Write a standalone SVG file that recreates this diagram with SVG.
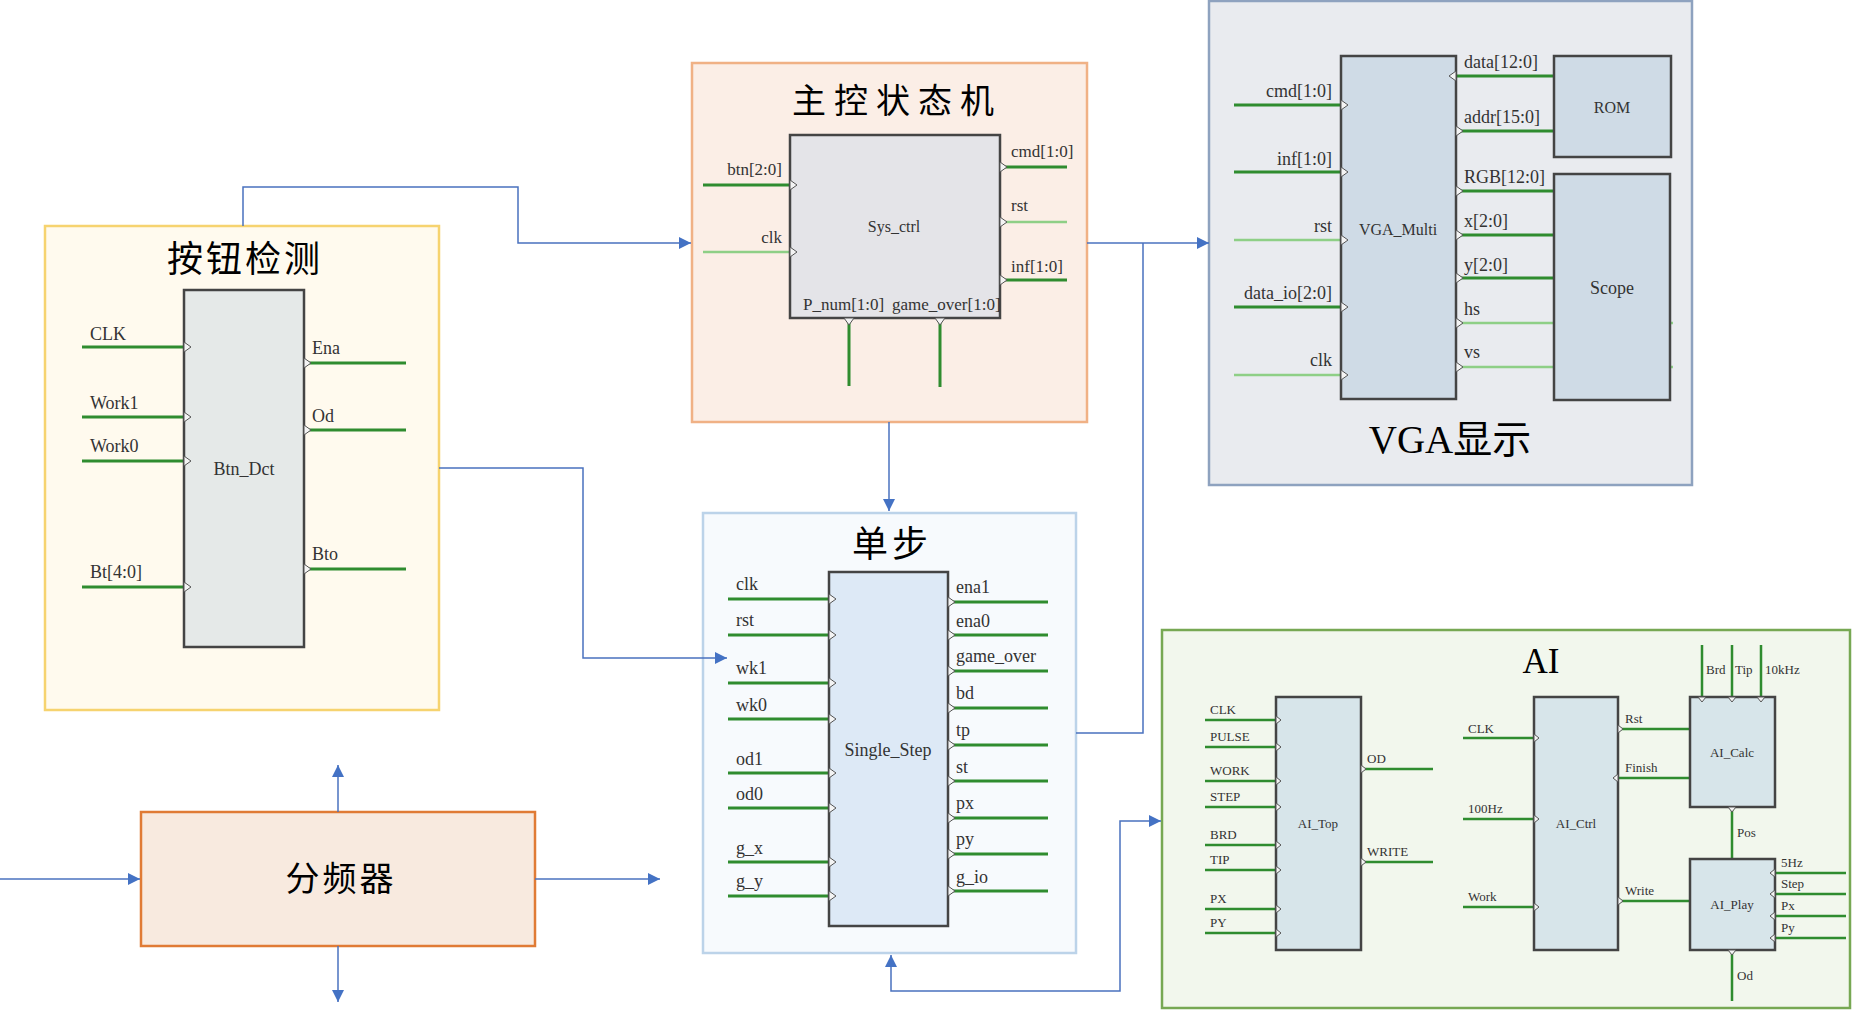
<svg xmlns="http://www.w3.org/2000/svg" xmlns:xlink="http://www.w3.org/1999/xlink" width="1854" height="1015" viewBox="0 0 1854 1015">
<style>
text{font-family:"Liberation Serif","Noto Sans CJK SC",serif;fill:#333}
.t{font-size:18px}
.s{font-size:17px}
.a{font-size:13px}
.m{text-anchor:middle}
.e{text-anchor:end}
.ttl{fill:#000;text-anchor:middle}
.blk{stroke:#444;stroke-width:2.5}
.d{stroke:#2f8c2f;stroke-width:3;fill:none}
.l{stroke:#8ecf86;stroke-width:2.5;fill:none}
.da{stroke:#2f8c2f;stroke-width:2.5;fill:none}
.c{stroke:#4a72bf;stroke-width:1.5;fill:none}
.pin{fill:#f4f4f4;stroke:#555;stroke-width:1}
</style>
<defs>
<marker id="arr" markerUnits="userSpaceOnUse" markerWidth="13" markerHeight="12" refX="12" refY="6" orient="auto-start-reverse">
<path d="M0,0 L12,6 L0,12 Z" fill="#4472c4"/>
</marker>
<path id="pr" class="pin" d="M0,-5 L7,0 L0,5 Z"/>
<path id="pl" class="pin" d="M0,-5 L-7,0 L0,5 Z"/>
<path id="pd" class="pin" d="M-5,0 L0,7 L5,0 Z"/>
<path id="prs" class="pin" d="M0,-4 L5,0 L0,4 Z"/>
<path id="pls" class="pin" d="M0,-4 L-5,0 L0,4 Z"/>
<path id="pds" class="pin" d="M-4,0 L0,5 L4,0 Z"/>
</defs>
<rect width="1854" height="1015" fill="#fff"/>

<g id="btn_detect">
<rect x="45" y="226" width="394" height="484" fill="#fffaee" stroke="#f6d36f" stroke-width="2.5"/>
<text class="ttl" x="245" y="272" font-size="36" letter-spacing="3">按钮检测</text>
<path class="d" d="M82,347H184M82,417H184M82,461H184M82,587H184M304,363H406M304,430H406M304,569H406"/>
<rect class="blk" x="184" y="290" width="120" height="357" fill="#e5e9e8"/>
<use href="#pr" x="184" y="347"/><use href="#pr" x="184" y="417"/><use href="#pr" x="184" y="461"/><use href="#pr" x="184" y="587"/>
<use href="#pr" x="304" y="363"/><use href="#pr" x="304" y="430"/><use href="#pr" x="304" y="569"/>
<text class="t" x="90" y="340">CLK</text>
<text class="t" x="90" y="409">Work1</text>
<text class="t" x="90" y="452">Work0</text>
<text class="t" x="90" y="578">Bt[4:0]</text>
<text class="t" x="312" y="354">Ena</text>
<text class="t" x="312" y="422">Od</text>
<text class="t" x="312" y="560">Bto</text>
<text class="t m" x="244" y="475">Btn_Dct</text>
</g>

<g id="sys_ctrl">
<rect x="692" y="63" width="395" height="359" fill="#fbeee6" stroke="#f0b185" stroke-width="2.5"/>
<text class="ttl" x="897" y="113" font-size="34" letter-spacing="8">主控状态机</text>
<path class="d" d="M703,185H790M1000,167H1067M1000,280H1067M849,318V386M940,318V387"/>
<path class="l" d="M703,252H790M1000,222H1067"/>
<rect class="blk" x="790" y="135" width="210" height="183" fill="#e4e4e8"/>
<use href="#pr" x="790" y="185"/><use href="#pr" x="790" y="252"/>
<use href="#pr" x="1000" y="167"/><use href="#pr" x="1000" y="222"/><use href="#pr" x="1000" y="280"/>
<use href="#pd" x="849" y="318"/><use href="#pd" x="940" y="318"/>
<text class="s e" x="782" y="175">btn[2:0]</text>
<text class="s e" x="782" y="243">clk</text>
<text class="s" x="1011" y="157">cmd[1:0]</text>
<text class="s" x="1011" y="211">rst</text>
<text class="s" x="1011" y="272">inf[1:0]</text>
<text class="s" x="803" y="310" font-size="16.5">P_num[1:0]</text>
<text class="s" x="892" y="310" font-size="16.5">game_over[1:0]</text>
<text class="m" x="894" y="232" font-size="16">Sys_ctrl</text>
</g>

<g id="vga">
<rect x="1209" y="1" width="483" height="484" fill="#e9ebef" stroke="#8ea2bf" stroke-width="2.5"/>
<path class="d" d="M1234,105H1341M1234,172H1341M1234,307H1341M1456,76H1554M1456,131H1554M1456,191H1554M1456,235H1554M1456,278H1554"/>
<path class="l" d="M1234,240H1341M1234,375H1341M1456,323H1673M1456,367H1673"/>
<rect class="blk" x="1341" y="56" width="115" height="343" fill="#cfdbe6"/>
<rect class="blk" x="1554" y="56" width="117" height="101" fill="#cfdbe6"/>
<rect class="blk" x="1554" y="174" width="116" height="226" fill="#cfdbe6"/>
<use href="#pr" x="1341" y="105"/><use href="#pr" x="1341" y="172"/><use href="#pr" x="1341" y="240"/><use href="#pr" x="1341" y="307"/><use href="#pr" x="1341" y="375"/>
<use href="#pl" x="1456" y="76"/><use href="#pr" x="1456" y="131"/><use href="#pr" x="1456" y="191"/><use href="#pr" x="1456" y="235"/><use href="#pr" x="1456" y="278"/><use href="#pr" x="1456" y="323"/><use href="#pr" x="1456" y="367"/>
<text class="t e" x="1332" y="97">cmd[1:0]</text>
<text class="t e" x="1332" y="165">inf[1:0]</text>
<text class="t e" x="1332" y="232">rst</text>
<text class="t e" x="1332" y="299">data_io[2:0]</text>
<text class="t e" x="1332" y="366">clk</text>
<text class="t" x="1464" y="68">data[12:0]</text>
<text class="t" x="1464" y="123">addr[15:0]</text>
<text class="t" x="1464" y="183">RGB[12:0]</text>
<text class="t" x="1464" y="227">x[2:0]</text>
<text class="t" x="1464" y="271">y[2:0]</text>
<text class="t" x="1464" y="315">hs</text>
<text class="t" x="1464" y="358">vs</text>
<text class="m" x="1398" y="235" font-size="16">VGA_Multi</text>
<text class="m" x="1612" y="113" font-size="16">ROM</text>
<text class="m" x="1612" y="294" font-size="18">Scope</text>
<text class="ttl" x="1450" y="453" font-size="39">VGA显示</text>
</g>

<g id="single_step">
<rect x="703" y="513" width="373" height="440" fill="#f7fafd" stroke="#bcd3e9" stroke-width="2.5"/>
<text class="ttl" x="892" y="557" font-size="36" letter-spacing="4">单步</text>
<path class="d" d="M728,599H829M728,635H829M728,683H829M728,719H829M728,773H829M728,808H829M728,862H829M728,896H829M948,602H1048M948,635H1048M948,671H1048M948,708H1048M948,745H1048M948,781H1048M948,818H1048M948,854H1048M948,891H1048"/>
<rect class="blk" x="829" y="572" width="119" height="354" fill="#dde9f6"/>
<use href="#pr" x="829" y="599"/><use href="#pr" x="829" y="635"/><use href="#pr" x="829" y="683"/><use href="#pr" x="829" y="719"/><use href="#pr" x="829" y="773"/><use href="#pr" x="829" y="808"/><use href="#pr" x="829" y="862"/><use href="#pr" x="829" y="896"/>
<use href="#pr" x="948" y="602"/><use href="#pr" x="948" y="635"/><use href="#pr" x="948" y="671"/><use href="#pr" x="948" y="708"/><use href="#pr" x="948" y="745"/><use href="#pr" x="948" y="781"/><use href="#pr" x="948" y="818"/><use href="#pr" x="948" y="854"/><use href="#pr" x="948" y="891"/>
<text class="t" x="736" y="590">clk</text>
<text class="t" x="736" y="626">rst</text>
<text class="t" x="736" y="674">wk1</text>
<text class="t" x="736" y="711">wk0</text>
<text class="t" x="736" y="765">od1</text>
<text class="t" x="736" y="800">od0</text>
<text class="t" x="736" y="854">g_x</text>
<text class="t" x="736" y="887">g_y</text>
<text class="t" x="956" y="593">ena1</text>
<text class="t" x="956" y="627">ena0</text>
<text class="t" x="956" y="662">game_over</text>
<text class="t" x="956" y="699">bd</text>
<text class="t" x="956" y="736">tp</text>
<text class="t" x="956" y="773">st</text>
<text class="t" x="956" y="809">px</text>
<text class="t" x="956" y="845">py</text>
<text class="t" x="956" y="883">g_io</text>
<text class="t m" x="888" y="756">Single_Step</text>
</g>

<g id="ai">
<rect x="1162" y="630" width="688" height="378" fill="#f2f7ed" stroke="#77a853" stroke-width="2.5"/>
<text class="ttl" x="1541" y="673" font-size="35">AI</text>
<path class="da" d="M1205,720H1276M1205,747H1276M1205,781H1276M1205,807H1276M1205,845H1276M1205,870H1276M1205,909H1276M1205,933H1276M1361,769H1433M1361,862H1433M1463,738H1534M1463,819H1534M1463,907H1534M1618,729H1690M1618,778H1690M1618,901H1690M1702,645V697M1732,645V697M1761,645V697M1732,807V859M1775,873H1846M1775,894H1846M1775,916H1846M1775,938H1846M1732,950V1001"/>
<rect class="blk" x="1276" y="697" width="85" height="253" fill="#d7e5ea" stroke-width="2"/>
<rect class="blk" x="1534" y="697" width="84" height="253" fill="#d7e5ea" stroke-width="2"/>
<rect class="blk" x="1690" y="697" width="85" height="110" fill="#d7e5ea" stroke-width="2"/>
<rect class="blk" x="1690" y="859" width="85" height="91" fill="#d7e5ea" stroke-width="2"/>
<use href="#prs" x="1276" y="720"/><use href="#prs" x="1276" y="747"/><use href="#prs" x="1276" y="781"/><use href="#prs" x="1276" y="807"/><use href="#prs" x="1276" y="845"/><use href="#prs" x="1276" y="870"/><use href="#prs" x="1276" y="909"/><use href="#prs" x="1276" y="933"/>
<use href="#prs" x="1361" y="769"/><use href="#prs" x="1361" y="862"/>
<use href="#prs" x="1534" y="738"/><use href="#prs" x="1534" y="819"/><use href="#prs" x="1534" y="907"/>
<use href="#prs" x="1618" y="729"/><use href="#pls" x="1618" y="778"/><use href="#prs" x="1618" y="901"/>
<use href="#pds" x="1702" y="697"/><use href="#pds" x="1732" y="697"/><use href="#pds" x="1761" y="697"/>
<use href="#pds" x="1732" y="807"/><use href="#pds" x="1732" y="950"/>
<use href="#pls" x="1775" y="873"/><use href="#pls" x="1775" y="894"/><use href="#pls" x="1775" y="916"/><use href="#pls" x="1775" y="938"/>
<text class="a" x="1210" y="714">CLK</text>
<text class="a" x="1210" y="741">PULSE</text>
<text class="a" x="1210" y="775">WORK</text>
<text class="a" x="1210" y="801">STEP</text>
<text class="a" x="1210" y="839">BRD</text>
<text class="a" x="1210" y="864">TIP</text>
<text class="a" x="1210" y="903">PX</text>
<text class="a" x="1210" y="927">PY</text>
<text class="a" x="1367" y="763">OD</text>
<text class="a" x="1367" y="856">WRITE</text>
<text class="a m" x="1318" y="828">AI_Top</text>
<text class="a" x="1468" y="733">CLK</text>
<text class="a" x="1468" y="813">100Hz</text>
<text class="a" x="1468" y="901">Work</text>
<text class="a" x="1625" y="723">Rst</text>
<text class="a" x="1625" y="772">Finish</text>
<text class="a" x="1625" y="895">Write</text>
<text class="a m" x="1576" y="828">AI_Ctrl</text>
<text class="a" x="1706" y="674">Brd</text>
<text class="a" x="1735" y="674">Tip</text>
<text class="a" x="1765" y="674">10kHz</text>
<text class="a m" x="1732" y="757">AI_Calc</text>
<text class="a" x="1737" y="837">Pos</text>
<text class="a m" x="1732" y="909">AI_Play</text>
<text class="a" x="1781" y="867">5Hz</text>
<text class="a" x="1781" y="888">Step</text>
<text class="a" x="1781" y="910">Px</text>
<text class="a" x="1781" y="932">Py</text>
<text class="a" x="1737" y="980">Od</text>
</g>

<g id="divider">
<rect x="141" y="812" width="394" height="134" fill="#f8eadf" stroke="#e07b35" stroke-width="2.5"/>
<text class="ttl" x="341" y="891" font-size="34" letter-spacing="3">分频器</text>
</g>

<g id="connectors">
<path class="c" d="M243,226V187H518V243H691" marker-end="url(#arr)"/>
<path class="c" d="M439,468H583V658H727" marker-end="url(#arr)"/>
<path class="c" d="M889,422V511" marker-end="url(#arr)"/>
<path class="c" d="M1087,243H1209" marker-end="url(#arr)"/>
<path class="c" d="M1076,733H1143V243"/>
<path class="c" d="M891,955V991H1120V821H1161" marker-start="url(#arr)" marker-end="url(#arr)"/>
<path class="c" d="M0,879H140" marker-end="url(#arr)"/>
<path class="c" d="M535,879H660" marker-end="url(#arr)"/>
<path class="c" d="M338,812V765" marker-end="url(#arr)"/>
<path class="c" d="M338,946V1002" marker-end="url(#arr)"/>
</g>
</svg>
